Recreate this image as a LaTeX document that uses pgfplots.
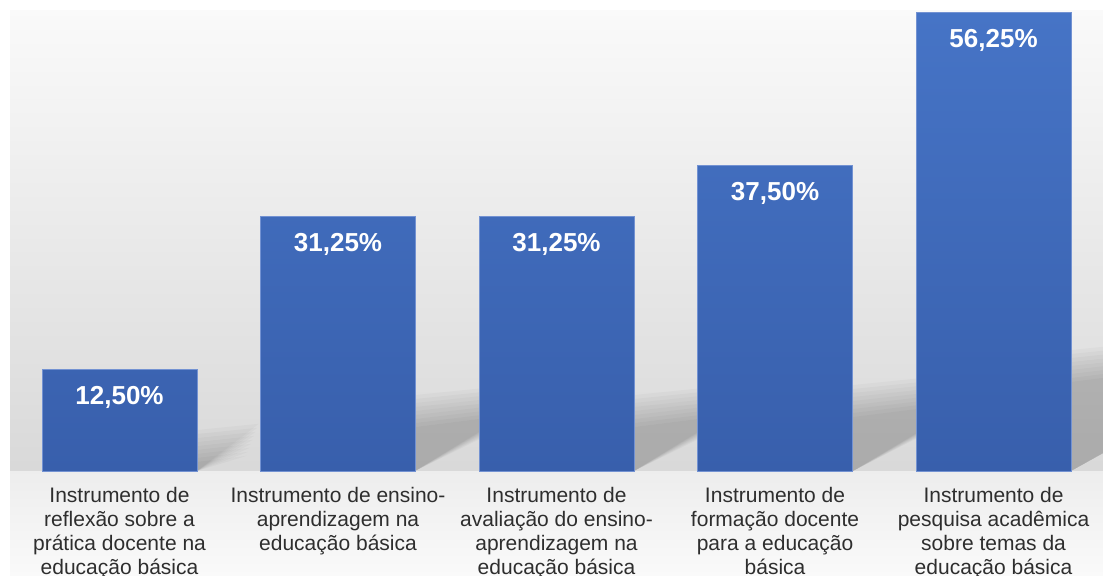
\documentclass[border=0pt]{standalone}
\usepackage{pgfplots}
\pgfplotsset{compat=1.18}
\usepackage{fontspec}
\setmainfont{Liberation Sans}
\definecolor{barTop}{HTML}{4674C6}
\definecolor{barBot}{HTML}{385FAC}
\definecolor{barEdge}{HTML}{7392D2}
\definecolor{txt}{HTML}{2E2E2E}
\begin{document}
\begin{tikzpicture}[x=0.5pt,y=0.5pt]
% background
\shade[top color=white!98!black, bottom color=white!85!black] (10,104) rectangle (1103,565);
\shade[top color=white!93!black, bottom color=white!98!black] (10,0) rectangle (1103,104);
% soft floor shadows (decoration)
\foreach \xr/\hs in {197/25, 415/60, 634/60, 853/70, 1071/105}{
  \begin{scope}
  \clip (\xr,104) rectangle (1103,565);
  \foreach \j in {0,...,8}{
    \pgfmathsetmacro{\dy}{-16+4*\j}
    \pgfmathsetmacro{\ax}{2.0+0.06*\j}
    \fill[black, opacity=0.024] (\xr,104) -- (\xr,104+\hs+\dy) -- ({\xr+\ax*\hs},{104+1.25*\hs+\dy}) -- cycle;
  }
  \end{scope}
}
\begin{axis}[
  at={(0,127)}, anchor=south west,
  scale only axis, width=551.5pt, height=235.5pt,
  xmin=-0.547, xmax=4.501, ymin=0, ymax=57.72,
  axis line style={draw=none}, major tick length=0pt,
  ytick=\empty,
  xtick={0,1,2,3,4},
  xticklabels={
    {Instrumento de\\reflexão sobre a\\prática docente na\\educação básica},
    {Instrumento de ensino-\\aprendizagem na\\educação básica},
    {Instrumento de\\avaliação do ensino-\\aprendizagem na\\educação básica},
    {Instrumento de\\formação docente\\para a educação\\básica},
    {Instrumento de\\pesquisa acadêmica\\sobre temas da\\educação básica}},
  x tick label style={align=center, font=\fontsize{10.5}{12}\selectfont, text=txt, anchor=north, yshift=-4.5pt},
  clip=false,
  ybar, bar width=77.5pt,
  point meta=explicit symbolic,
  nodes near coords,
  every node near coord/.append style={anchor=center, yshift=-14pt, text=white, font=\fontsize{13}{15}\selectfont\bfseries},
]
\addplot[draw=barEdge, line width=0.4pt, top color=barTop, bottom color=barBot]
  coordinates {(0,12.5) [12,50\%] (1,31.25) [31,25\%] (2,31.25) [31,25\%] (3,37.5) [37,50\%] (4,56.25) [56,25\%]};
\end{axis}
\pgfresetboundingbox
\path (0,0) rectangle (1103,575);
\end{tikzpicture}
\end{document}
